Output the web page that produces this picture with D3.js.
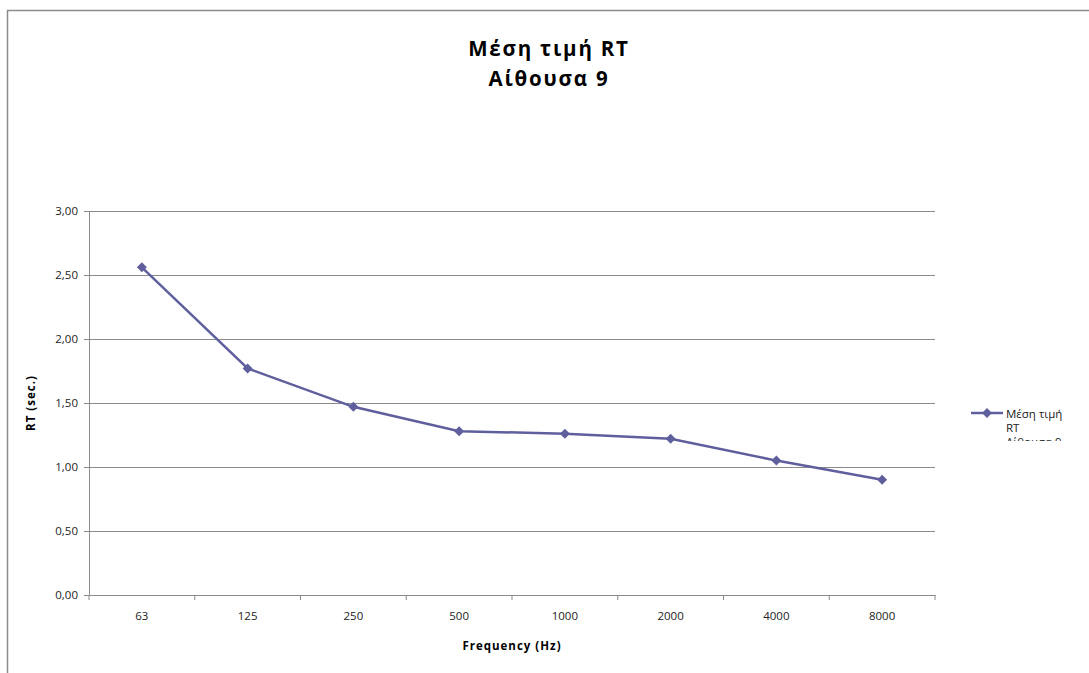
<!DOCTYPE html>
<html>
<head>
<meta charset="utf-8">
<script src="https://cdn.jsdelivr.net/npm/d3@7"></script>
<style>
  body { margin: 0; background: #fff; }
  text { font-family: "Open Sans", "DejaVu Sans", sans-serif; }
</style>
</head>
<body>
<div id="chart"></div>
<script>
const categories = ['63', '125', '250', '500', '1000', '2000', '4000', '8000'];
const rtValues = [2.56, 1.77, 1.47, 1.28, 1.26, 1.22, 1.05, 0.90];
const yTicks = [0, 0.5, 1, 1.5, 2, 2.5, 3];
const seriesName = ['Μέση τιμή', 'RT', 'Αίθουσα 9'];
const titleLines = ['Μέση τιμή RT', 'Αίθουσα 9'];

const W = 1089, H = 673;
const margin = { top: 211, right: 154, bottom: 78, left: 89 };
const width = W - margin.left - margin.right;
const height = H - margin.top - margin.bottom;
const color = '#5f5f9e';

const svg = d3.select('#chart')
  .append('svg')
  .attr('width', W)
  .attr('height', H);

// chart border
svg.append('rect')
  .attr('x', 7.5).attr('y', 10.5)
  .attr('width', W + 10).attr('height', H + 10)
  .attr('fill', 'none')
  .attr('stroke', '#8c8c8c')
  .attr('stroke-width', 1.5);

// title
svg.append('text')
  .attr('x', 549).attr('y', 56)
  .attr('text-anchor', 'middle')
  .attr('font-size', 20.5).attr('font-weight', 'bold')
  .attr('letter-spacing', 1.8)
  .selectAll('tspan')
  .data(titleLines)
  .enter().append('tspan')
  .attr('x', 549)
  .attr('dy', (d, i) => i === 0 ? 0 : 30)
  .text(d => d);

const g = svg.append('g')
  .attr('transform', 'translate(' + margin.left + ',' + margin.top + ')');

const x = d3.scaleBand()
  .range([0, width])
  .domain(categories);

const y = d3.scaleLinear()
  .domain([0, 3])
  .range([height, 0]);

// gridlines
g.selectAll('.grid')
  .data(yTicks.slice(1))
  .enter().append('line')
  .attr('x1', 0).attr('x2', width)
  .attr('y1', d => Math.round(y(d)) + 0.5)
  .attr('y2', d => Math.round(y(d)) + 0.5)
  .attr('stroke', '#8a8a8a')
  .attr('stroke-width', 1);

// Y axis
const yAxis = g.append('g')
  .call(d3.axisLeft(y).tickValues(yTicks).tickSize(5).tickSizeOuter(0)
    .tickFormat(d => d3.format('.2f')(d).replace('.', ',')));
yAxis.select('.domain').attr('stroke', '#8a8a8a');
yAxis.selectAll('.tick line').attr('stroke', '#8a8a8a');
yAxis.selectAll('.tick text').attr('font-size', 11.5).attr('fill', '#222').attr('x', -11)
  .attr('font-family', '"Open Sans", sans-serif');

// X axis
const xAxis = g.append('g')
  .attr('transform', 'translate(0,' + height + ')')
  .call(d3.axisBottom(x).tickSize(0).tickSizeOuter(0));
xAxis.select('.domain').attr('stroke', '#8a8a8a');
xAxis.selectAll('.tick text').attr('font-size', 11.5).attr('fill', '#222').attr('y', 17)
  .attr('font-family', '"Open Sans", sans-serif');

// category separators
g.selectAll('.sep')
  .data(categories.concat(['end']))
  .enter().append('line')
  .attr('x1', (d, i) => i * x.bandwidth())
  .attr('x2', (d, i) => i * x.bandwidth())
  .attr('y1', height).attr('y2', height + 5)
  .attr('stroke', '#8a8a8a');

// axis titles
g.append('text')
  .attr('x', width / 2).attr('y', height + 55)
  .attr('text-anchor', 'middle')
  .attr('font-size', 11.5).attr('font-weight', 'bold')
  .attr('letter-spacing', 1)
  .text('Frequency (Hz)');

g.append('text')
  .attr('transform', 'translate(-54,' + (height / 2) + ') rotate(-90)')
  .attr('text-anchor', 'middle')
  .attr('font-size', 11.5).attr('font-weight', 'bold')
  .attr('letter-spacing', 1)
  .text('RT (sec.)');

// line
const line = d3.line()
  .x((d, i) => x(categories[i]) + x.bandwidth() / 2)
  .y(d => y(d));

g.append('path')
  .datum(rtValues)
  .attr('fill', 'none')
  .attr('stroke', color)
  .attr('stroke-width', 2.5)
  .attr('d', line);

const diamond = d3.symbol().type(d3.symbolDiamond2).size(64);

g.selectAll('.pt')
  .data(rtValues)
  .enter().append('path')
  .attr('transform', (d, i) => 'translate(' + (x(categories[i]) + x.bandwidth() / 2) + ',' + y(d) + ')')
  .attr('d', diamond)
  .attr('fill', color);

// legend (third line cut off like in the original)
const legend = svg.append('g');
svg.append('clipPath').attr('id', 'legclip')
  .append('rect').attr('x', 960).attr('y', 395).attr('width', 129).attr('height', 46);

legend.append('line')
  .attr('x1', 971).attr('x2', 1003)
  .attr('y1', 413).attr('y2', 413)
  .attr('stroke', color).attr('stroke-width', 2.5);
legend.append('path')
  .attr('transform', 'translate(987,413)')
  .attr('d', diamond)
  .attr('fill', color);
legend.append('text')
  .attr('clip-path', 'url(#legclip)')
  .attr('font-size', 11.5).attr('fill', '#222')
  .selectAll('tspan')
  .data(seriesName)
  .enter().append('tspan')
  .attr('x', 1006)
  .attr('y', (d, i) => 418 + i * 14)
  .text(d => d);
</script>
</body>
</html>
